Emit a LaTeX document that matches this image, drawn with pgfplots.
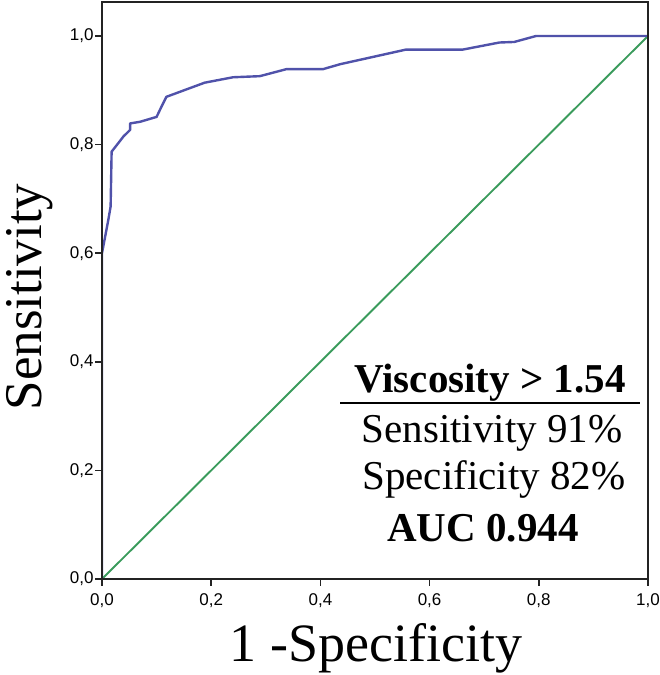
\documentclass[border=0pt]{standalone}
\usepackage{pgfplots}
\pgfplotsset{compat=1.18}
\usepackage{fontspec}
\setmainfont{Liberation Serif}
\newfontfamily\ticksans{Liberation Sans}
\definecolor{roc}{RGB}{80,82,170}
\definecolor{diag}{RGB}{58,155,92}
\definecolor{frame}{RGB}{35,35,35}
\begin{document}
\begin{tikzpicture}
\useasboundingbox (0,0) rectangle (660pt,675pt);
\begin{axis}[
  at={(102pt,96pt)}, anchor=south west,
  width=546pt, height=577pt, scale only axis,
  xmin=0, xmax=1, ymin=0, ymax=1.0626,
  xtick={0,0.2,0.4,0.6,0.8,1.0},
  ytick={0,0.2,0.4,0.6,0.8,1.0},
  tick pos=left, tick align=outside,
  major tick length=7pt,
  axis line style={line width=1.8pt, frame},
  tick style={line width=1.6pt, frame},
  axis on top,
  /pgf/number format/.cd, use comma, fixed, fixed zerofill, precision=1, assume math mode=true,
  /pgfplots/.cd,
  tick label style={font=\ticksans\fontsize{17}{19}\selectfont, text=black},
  xticklabel style={yshift=-4pt},
  yticklabel style={xshift=2pt},
]
\addplot[diag, line width=1.9pt] coordinates {(0,0) (1,1)};
\addplot[roc, line width=2.4pt, line join=round] coordinates {
(0,0) (0,0.60) (0.0115,0.661) (0.0158,0.686) (0.0176,0.787) (0.027,0.799)
(0.0393,0.815) (0.0515,0.827) (0.0515,0.839) (0.0698,0.842) (0.100,0.851)
(0.109,0.870) (0.118,0.888) (0.161,0.904) (0.188,0.914) (0.240,0.924)
(0.289,0.926) (0.338,0.939) (0.405,0.939) (0.436,0.948) (0.557,0.975)
(0.661,0.975) (0.728,0.988) (0.755,0.989) (0.795,1.0) (1,1)};
\end{axis}
% axis titles
\node[anchor=base, inner sep=0pt, font=\fontsize{54}{58}\selectfont] at (376pt,13pt) {1 -Specificity};
\node[anchor=base, rotate=90, inner sep=0pt, font=\fontsize{53}{58}\selectfont] at (42pt,378pt) {Sensitivity};
% annotation
\node[anchor=base, inner sep=0pt, font=\bfseries\fontsize{41}{45}\selectfont] at (490pt,282pt) {Viscosity > 1.54};
\draw[line width=2.4pt, black] (340pt,272pt) -- (640pt,272pt);
\node[anchor=base, inner sep=0pt, font=\fontsize{41}{45}\selectfont] at (492pt,232pt) {Sensitivity 91\%};
\node[anchor=base, inner sep=0pt, font=\fontsize{41}{45}\selectfont] at (494pt,185pt) {Specificity 82\%};
\node[anchor=base, inner sep=0pt, font=\bfseries\fontsize{41}{45}\selectfont] at (483pt,133pt) {AUC 0.944};
\end{tikzpicture}
\end{document}
